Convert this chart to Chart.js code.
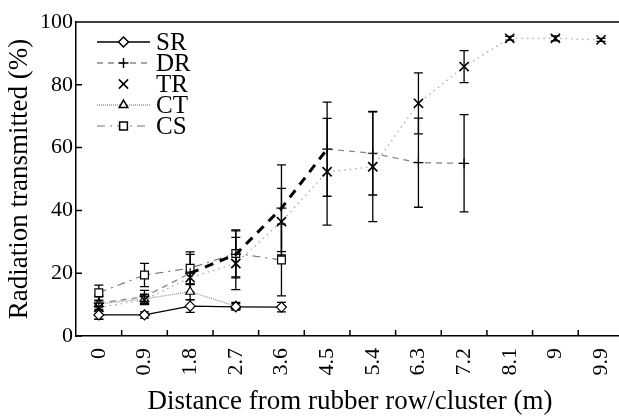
<!DOCTYPE html>
<html>
<head>
<meta charset="utf-8">
<script src="https://cdn.jsdelivr.net/npm/chart.js"></script>
<style>
  html, body { margin: 0; padding: 0; background: #fff; overflow: hidden; }
  #wrap { width: 640px; height: 418px; }
</style>
</head>
<body>
<div id="wrap"><canvas id="chart"></canvas></div>
<script>
// distances from the rubber row (m)
const distances = ["0", "0.9", "1.8", "2.7", "3.6", "4.5", "5.4", "6.3", "7.2", "8.1", "9", "9.9"];

// radiation transmitted (%) and its error bar half-widths
const srValues = [6.7, 6.7, 9.5, 9.3, 9.2];
const srErrors = [1.3, 1.0, 2.0, 1.0, 1.5];
const drValues = [10.5, 12.5, 20.0, 26.0, 40.7, 59.5, 58.2, 55.2, 55.0];
const drErrors = [2.0, 2.0, 6.0, 7.5, 13.8, 15.0, 13.3, 14.2, 15.5];
const trValues = [9.1, 11.5, 18.6, 23.1, 36.4, 52.3, 53.9, 74.1, 85.8, 94.8, 94.8, 94.3];
const trErrors = [3.8, 1.5, 2.0, 8.3, 10.6, 17.0, 17.5, 9.7, 5.1, 0.6, 0.8, 0.5];
const ctValues = [10.2, 11.8, 14.1, 9.5];
const ctErrors = [1.0, 1.5, 2.5, 1.2];
const csValues = [13.8, 19.4, 21.6, 26.3, 24.2];
const csErrors = [2.4, 3.7, 5.2, 7.5, 11.4];

const yTicks = [0, 20, 40, 60, 80, 100];

Chart.defaults.font.family = '"Liberation Serif", "Times New Roman", serif';
Chart.defaults.color = "#000";

// thick black dashes for the DR segments between 1.8 and 4.5 m
function drThick(c) { return c.p0DataIndex >= 2 && c.p0DataIndex <= 4; }

// error bars drawn under the markers
const errorBars = {
  id: "errorBars",
  beforeDatasetsDraw(chart) {
    const ctx = chart.ctx;
    const y = chart.scales.y;
    ctx.save();
    ctx.strokeStyle = "#000";
    ctx.lineWidth = 1.3;
    ctx.setLineDash([]);
    chart.data.datasets.forEach((ds, i) => {
      const meta = chart.getDatasetMeta(i);
      ds.errors.forEach((e, j) => {
        const v = ds.data[j];
        if (v == null || !meta.data[j]) return;
        const x = meta.data[j].x;
        const top = y.getPixelForValue(v + e);
        const bot = y.getPixelForValue(v - e);
        ctx.beginPath();
        ctx.moveTo(x, top); ctx.lineTo(x, bot);
        ctx.moveTo(x - 4.5, top); ctx.lineTo(x + 4.5, top);
        ctx.moveTo(x - 4.5, bot); ctx.lineTo(x + 4.5, bot);
        ctx.stroke();
      });
    });
    ctx.restore();
  }
};

// inward tick marks, top frame line and the legend inside the plot
const frameAndLegend = {
  id: "frameAndLegend",
  afterDraw(chart) {
    const ctx = chart.ctx;
    const a = chart.chartArea;
    const xs = chart.scales.x, ys = chart.scales.y;
    ctx.save();
    ctx.strokeStyle = "#000";
    ctx.lineWidth = 1.5;
    ctx.beginPath();
    ctx.moveTo(a.left, a.top); ctx.lineTo(a.right, a.top);
    ys.ticks.forEach(t => {
      const py = ys.getPixelForValue(t.value);
      ctx.moveTo(a.left, py); ctx.lineTo(a.left + 6, py);
    });
    for (let i = 1; i < distances.length; i++) {
      const px = (xs.getPixelForTick(i - 1) + xs.getPixelForTick(i)) / 2;
      ctx.moveTo(px, a.bottom); ctx.lineTo(px, a.bottom - 6);
    }
    ctx.stroke();

    ctx.font = '25px "Liberation Serif"';
    ctx.textBaseline = "middle";
    ctx.fillStyle = "#000";
    chart.data.datasets.forEach((ds, i) => {
      const ly = a.top + 20 + i * 21;
      const x0 = a.left + 21, x1 = a.left + 74;
      ctx.save();
      ctx.strokeStyle = ds.borderColor;
      ctx.lineWidth = ds.borderWidth;
      ctx.setLineDash(ds.borderDash || []);
      if (ds.label !== "TR") {
        ctx.beginPath();
        ctx.moveTo(x0, ly); ctx.lineTo(x1, ly);
        ctx.stroke();
      }
      ctx.restore();
      ctx.save();
      ctx.strokeStyle = "#000";
      ctx.fillStyle = "#fff";
      ctx.setLineDash([]);
      Chart.helpers.drawPoint(ctx, {pointStyle: ds.pointStyle, radius: ds.pointRadius, borderWidth: 1.2, rotation: 0}, (x0 + x1) / 2, ly);
      ctx.restore();
      ctx.fillText(ds.label, x1 + 6, ly + 1);
    });
    ctx.restore();
  }
};

const common = {
  pointBorderColor: "#000",
  pointBackgroundColor: "#fff",
  pointBorderWidth: 1.2,
  pointRadius: 5,
  fill: false,
  tension: 0
};

new Chart(document.getElementById("chart"), {
  type: "line",
  data: {
    labels: distances,
    datasets: [
      {...common, label: "SR", data: srValues, errors: srErrors, borderColor: "#000", borderWidth: 1.3,
        pointStyle: "rectRot", pointRadius: 5},
      {...common, label: "DR", data: drValues, errors: drErrors, borderColor: "#888", borderWidth: 1.3,
        borderDash: [6, 5], pointStyle: "cross", pointRadius: 5,
        segment: {
          borderColor: c => drThick(c) ? "#000" : undefined,
          borderWidth: c => drThick(c) ? 3 : undefined,
          borderDash: c => drThick(c) ? [9, 7] : undefined
        }},
      {...common, label: "TR", data: trValues, errors: trErrors, borderColor: "#aaa", borderWidth: 1.3,
        borderDash: [1.5, 4], pointStyle: "crossRot", pointRadius: 6.5, pointBorderWidth: 1.6},
      {...common, label: "CT", data: ctValues, errors: ctErrors, borderColor: "#999", borderWidth: 1.3,
        borderDash: [1, 1], pointStyle: "triangle", pointRadius: 5},
      {...common, label: "CS", data: csValues, errors: csErrors, borderColor: "#777", borderWidth: 1.2,
        borderDash: [8, 5, 2, 5], pointStyle: "rect", pointRadius: 5.5}
    ]
  },
  options: {
    responsive: true,
    maintainAspectRatio: false,
    animation: false,
    layout: { padding: { left: 0, right: 13, top: 22, bottom: 0 } },
    plugins: { legend: { display: false }, tooltip: { enabled: false } },
    scales: {
      x: {
        type: "category",
        offset: true,
        grid: { display: false, drawTicks: false },
        border: { display: true, color: "#000", width: 1.5 },
        ticks: { font: { size: 22 }, minRotation: 90, maxRotation: 90, autoSkip: false, padding: 12 },
        title: { display: true, text: "Distance from rubber row/cluster (m)", font: { size: 27 }, padding: 0 },
        afterFit: s => { s.height = 82; }
      },
      y: {
        min: 0,
        max: 100,
        afterBuildTicks: s => { s.ticks = yTicks.map(v => ({value: v})); },
        grid: { display: false, drawTicks: false },
        border: { display: true, color: "#000", width: 1.5 },
        ticks: { font: { size: 22 }, padding: 3 },
        title: { display: true, text: "Radiation transmitted (%)", font: { size: 27 }, padding: { top: 4, bottom: 0 } },
        afterFit: s => { s.width = 76; }
      }
    }
  },
  plugins: [errorBars, frameAndLegend]
});
</script>
</body>
</html>
